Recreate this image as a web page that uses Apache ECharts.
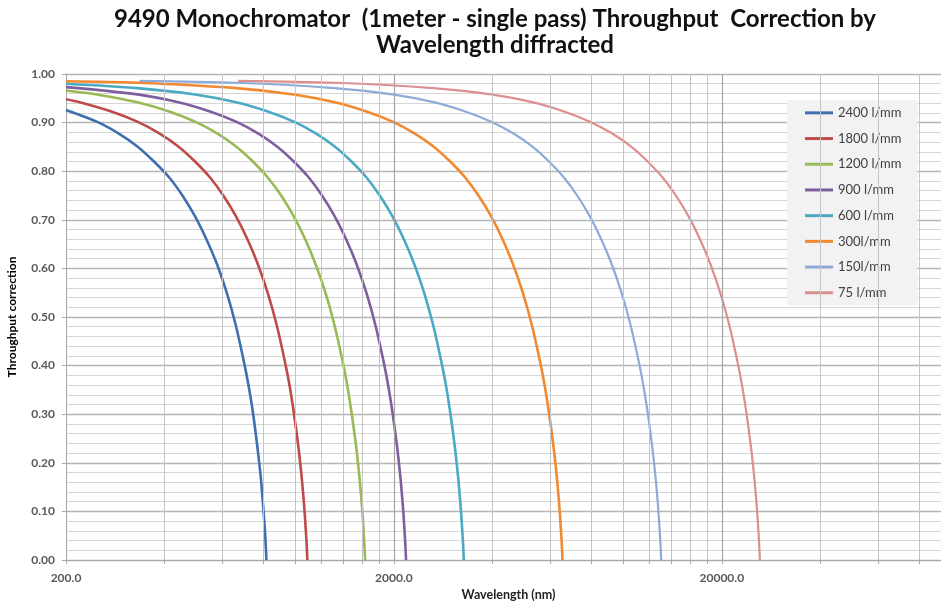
<!DOCTYPE html>
<html>
<head>
<meta charset="utf-8">
<script src="https://cdn.jsdelivr.net/npm/echarts@6/dist/echarts.min.js"></script>
<style>
  html, body { margin: 0; padding: 0; background: #fff; }
  #chart { width: 941px; height: 602px; }
</style>
</head>
<body>
<div id="chart"></div>
<script>
// grating names, as in the legend
const gratings = ['2400 l/mm', '1800 l/mm', '1200 l/mm', '900 l/mm', '600 l/mm', '300l/mm', '150l/mm', '75 l/mm']
const colors = ['#3f6fb0', '#be4b48', '#98b954', '#7d5fa0', '#4aa9c4', '#f2892f', '#8eabd8', '#dc8f8f']

// wavelength (nm) / throughput correction
const wl2400 = [200, 248, 289, 330, 371, 413, 454, 495, 536, 578, 619, 660, 701, 722, 743, 767, 784, 792, 800, 809, 813, 817]
const tp2400 = [0.926, 0.902, 0.878, 0.851, 0.820, 0.787, 0.749, 0.707, 0.660, 0.608, 0.549, 0.481, 0.401, 0.356, 0.304, 0.232, 0.175, 0.141, 0.104, 0.058, 0.032, 0]
const wl1800 = [200, 220, 275, 330, 385, 440, 495, 550, 605, 660, 715, 770, 825, 880, 935, 963, 990, 1023, 1045, 1056, 1067, 1078, 1084, 1089]
const tp1800 = [0.948, 0.942, 0.923, 0.902, 0.878, 0.851, 0.820, 0.787, 0.749, 0.707, 0.660, 0.608, 0.549, 0.481, 0.401, 0.356, 0.304, 0.232, 0.175, 0.141, 0.104, 0.058, 0.032, 0]
const wl1200 = [200, 248, 330, 413, 495, 578, 660, 743, 825, 908, 990, 1073, 1155, 1238, 1320, 1403, 1444, 1485, 1535, 1568, 1584, 1601, 1617, 1625, 1634]
const tp1200 = [0.966, 0.958, 0.942, 0.923, 0.902, 0.878, 0.851, 0.820, 0.787, 0.749, 0.707, 0.660, 0.608, 0.549, 0.481, 0.401, 0.356, 0.304, 0.232, 0.175, 0.141, 0.104, 0.058, 0.032, 0]
const wl900 = [200, 330, 440, 550, 660, 770, 880, 990, 1100, 1210, 1320, 1430, 1540, 1650, 1760, 1870, 1925, 1980, 2046, 2090, 2112, 2134, 2156, 2167, 2178]
const tp900 = [0.973, 0.958, 0.942, 0.923, 0.902, 0.878, 0.851, 0.820, 0.787, 0.749, 0.707, 0.660, 0.608, 0.549, 0.481, 0.401, 0.356, 0.304, 0.232, 0.175, 0.141, 0.104, 0.058, 0.032, 0]
const wl600 = [200, 330, 495, 660, 825, 990, 1155, 1320, 1485, 1650, 1815, 1980, 2145, 2310, 2475, 2640, 2805, 2888, 2970, 3069, 3135, 3168, 3201, 3234, 3251, 3267]
const tp600 = [0.980, 0.971, 0.958, 0.942, 0.923, 0.902, 0.878, 0.851, 0.820, 0.787, 0.749, 0.707, 0.660, 0.608, 0.549, 0.481, 0.401, 0.356, 0.304, 0.232, 0.175, 0.141, 0.104, 0.058, 0.032, 0]
const wl300 = [200, 330, 660, 990, 1320, 1650, 1980, 2310, 2640, 2970, 3300, 3630, 3960, 4290, 4620, 4950, 5280, 5610, 5775, 5940, 6138, 6270, 6336, 6402, 6468, 6501, 6534]
const tp300 = [0.985, 0.982, 0.971, 0.958, 0.942, 0.923, 0.902, 0.878, 0.851, 0.820, 0.787, 0.749, 0.707, 0.660, 0.608, 0.549, 0.481, 0.401, 0.356, 0.304, 0.232, 0.175, 0.141, 0.104, 0.058, 0.032, 0]
const wl150 = [335, 660, 1320, 1980, 2640, 3300, 3960, 4620, 5280, 5940, 6600, 7260, 7920, 8580, 9240, 9900, 10560, 11220, 11550, 11880, 12276, 12540, 12672, 12804, 12936, 13002, 13068]
const tp150 = [0.986, 0.982, 0.971, 0.958, 0.942, 0.923, 0.902, 0.878, 0.851, 0.820, 0.787, 0.749, 0.707, 0.660, 0.608, 0.549, 0.481, 0.401, 0.356, 0.304, 0.232, 0.175, 0.141, 0.104, 0.058, 0.032, 0]
const wl75 = [670, 1320, 2640, 3960, 5280, 6600, 7920, 9240, 10560, 11880, 13200, 14520, 15840, 17160, 18480, 19800, 21120, 22440, 23100, 23760, 24552, 25080, 25344, 25608, 25872, 26004, 26136]
const tp75 = [0.986, 0.982, 0.971, 0.958, 0.942, 0.923, 0.902, 0.878, 0.851, 0.820, 0.787, 0.749, 0.707, 0.660, 0.608, 0.549, 0.481, 0.401, 0.356, 0.304, 0.232, 0.175, 0.141, 0.104, 0.058, 0.032, 0]

const wls = [wl2400, wl1800, wl1200, wl900, wl600, wl300, wl150, wl75]
const tps = [tp2400, tp1800, tp1200, tp900, tp600, tp300, tp150, tp75]

// x axis labels and the log grid lines
const xLabels = [200, 2000, 20000]
const xMinor = [400, 600, 800, 1000, 1200, 1400, 1600, 1800, 4000, 6000, 8000, 10000, 12000, 14000, 16000, 18000, 40000, 60000, 80000]
const xMajor = [2000, 20000]

const font = 'Lato, "Open Sans", sans-serif'

const chart = echarts.init(document.getElementById('chart'))

const gridSeries = {
	type: 'line',
	data: [],
	silent: true,
	z: 1,
	markLine: {
		silent: true,
		symbol: ['none', 'none'],
		label: { show: false },
		animation: false,
		data: [
			...xMinor.map(v => ({ xAxis: v, lineStyle: { color: '#c4c4c4', width: 1, type: 'solid' } })),
			...xMajor.map(v => ({ xAxis: v, lineStyle: { color: '#a4a4a4', width: 1.2, type: 'solid' } }))
		]
	}
}

const lineSeries = gratings.map((name, i) => ({
	name,
	type: 'line',
	data: wls[i].map((x, j) => [x, tps[i][j]]),
	symbol: 'none',
	smooth: 0.3,
	z: 3,
	lineStyle: { width: i < 6 ? 2.6 : 2.2, color: colors[i] },
	itemStyle: { color: colors[i] }
}))

const option = {
	animation: false,
	backgroundColor: '#fff',
	title: {
		text: '9490 Monochromator  (1meter - single pass) Throughput  Correction by\nWavelength diffracted',
		left: 493,
		top: 4,
		textAlign: 'center',
		padding: 2,
		textStyle: { fontFamily: font, fontSize: 24, fontWeight: 'bold', color: '#111', lineHeight: 26 }
	},
	legend: {
		data: gratings,
		orient: 'vertical',
		left: 787,
		top: 100,
		padding: [0, 16, 0, 18],
		backgroundColor: '#f2f2f2',
		icon: 'rect',
		itemWidth: 28,
		itemHeight: 3,
		itemGap: 0,
		textStyle: { fontFamily: font, fontSize: 13, color: '#404040', lineHeight: 25.7 }
	},
	grid: { left: 66, top: 74, right: -10, bottom: 42, containLabel: false, outerBoundsMode: 'none' },
	xAxis: {
		type: 'log',
		logBase: 10,
		min: 200,
		max: 100000,
		name: 'Wavelength (nm)',
		nameLocation: 'middle',
		nameGap: 27,
		nameTextStyle: { fontFamily: font, fontSize: 12.5, fontWeight: 'bold', color: '#222' },
		axisLine: { show: true, lineStyle: { color: '#a8a8a8' } },
		axisTick: { show: true, length: 4, customValues: [200, ...xMinor, ...xMajor], lineStyle: { color: '#a8a8a8' } },
		axisLabel: { customValues: xLabels, formatter: v => Number(v).toFixed(1), fontFamily: font, fontSize: 12, fontWeight: 'bold', color: '#595959', margin: 12 },
		splitLine: { show: false },
		minorSplitLine: { show: false }
	},
	yAxis: {
		type: 'value',
		min: 0,
		max: 1,
		interval: 0.1,
		name: 'Throughput correction',
		nameLocation: 'middle',
		nameGap: 48,
		nameTextStyle: { fontFamily: font, fontSize: 12, fontWeight: 'bold', color: '#000' },
		axisLine: { show: true, lineStyle: { color: '#a8a8a8' } },
		axisTick: { show: true, length: 4, lineStyle: { color: '#a8a8a8' } },
		axisLabel: { formatter: v => v.toFixed(2), fontFamily: font, fontSize: 12, fontWeight: 'bold', color: '#595959', margin: 11 },
		splitLine: { lineStyle: { color: '#b5b5b5', width: 1.4 } },
		minorTick: { show: false, splitNumber: 5 },
		minorSplitLine: { show: true, lineStyle: { color: '#d6d6d6', width: 1 } }
	},
	series: [gridSeries, ...lineSeries]
}

chart.setOption(option)
window.addEventListener('resize', () => chart.resize())
</script>
</body>
</html>
